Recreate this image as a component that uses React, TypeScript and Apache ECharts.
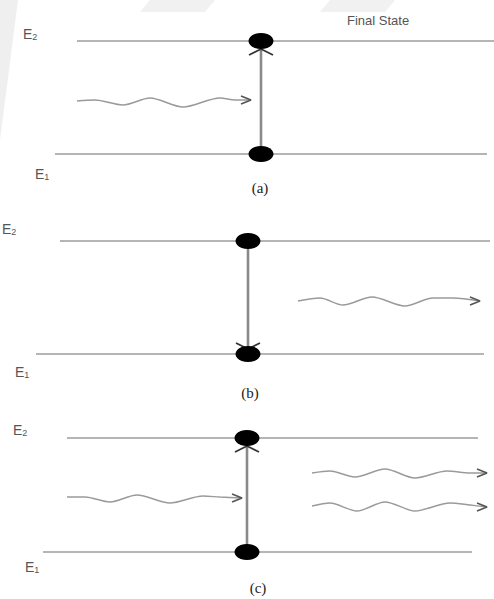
import React, { useEffect, useRef } from "react";
import * as echarts from "echarts";

// Panels and energy levels (pixel-space coordinates on a 494x599 canvas)
const panelNames = ["(a)", "(b)", "(c)"];
const upperLevelY = [41, 241, 438];
const lowerLevelY = [154, 354, 552];
const upperLevelX = [[77, 494], [60, 490], [67, 478]];
const lowerLevelX = [[55, 487], [36, 484], [43, 472]];
const transitionX = [261, 248, 247];
const transitionDir = ["up", "down", "up"];

// Photons (wavy arrows): [x, y] vertices
const waveA: number[][] = [[77, 101], [95, 100], [123, 105], [150, 98], [183, 107], [220, 98], [235, 100], [251, 100]];
const waveB: number[][] = [[298, 301], [320, 298], [343, 305], [372, 297], [405, 306], [433, 298], [453, 298], [480, 301]];
const waveCin: number[][] = [[67, 497], [85, 497], [110, 502], [137, 495], [170, 503], [203, 496], [220, 497], [242, 498]];
const waveCout1: number[][] = [[312, 473], [330, 471], [355, 477], [385, 469], [415, 478], [447, 471], [470, 473], [487, 473]];
const waveCout2: number[][] = [[312, 506], [330, 503], [357, 511], [385, 502], [415, 511], [450, 503], [470, 505], [487, 507]];
const waves = [waveA, waveB, waveCin, waveCout1, waveCout2];

export default function App() {
  const ref = useRef<HTMLDivElement>(null);
  useEffect(() => {
    if (!ref.current) return;
    const chart = echarts.init(ref.current, undefined, { renderer: "svg" });
    const series: any[] = [];
    const levelStyle = { color: "#9c9c9c", width: 1.6 };
    for (let i = 0; i < 3; i++) {
      series.push({
        type: "line", data: [[upperLevelX[i][0], upperLevelY[i]], [upperLevelX[i][1], upperLevelY[i]]],
        symbol: "none", lineStyle: levelStyle, silent: true,
      });
      series.push({
        type: "line", data: [[lowerLevelX[i][0], lowerLevelY[i]], [lowerLevelX[i][1], lowerLevelY[i]]],
        symbol: "none", lineStyle: levelStyle, silent: true,
      });
      const x = transitionX[i];
      series.push({
        type: "line", data: [[x, upperLevelY[i]], [x, lowerLevelY[i]]],
        symbol: "none", lineStyle: { color: "#8a8a8a", width: 2.6 }, silent: true,
      });
      // chevron of the transition arrow
      let tipY: number, s: number;
      if (transitionDir[i] === "up") { tipY = upperLevelY[i] + 8; s = 1; }
      else { tipY = lowerLevelY[i] - 5; s = -1; }
      series.push({
        type: "line", data: [[x - 12, tipY + 6 * s], [x, tipY], [x + 12, tipY + 6 * s]],
        symbol: "none", lineStyle: { color: "#333", width: 1.8 }, silent: true, z: 3,
      });
      series.push({
        type: "scatter", data: [[x, upperLevelY[i]], [x, lowerLevelY[i]]],
        symbol: "circle", symbolSize: [25, 16], itemStyle: { color: "#000", opacity: 1 }, silent: true, z: 4,
      });
    }
    waves.forEach((w) => {
      series.push({
        type: "line", data: w, smooth: 0.3, symbol: "none",
        lineStyle: { color: "#9a9a9a", width: 1.4 }, silent: true,
      });
      const tip = w[w.length - 1];
      series.push({
        type: "line", data: [[tip[0] - 10, tip[1] - 4], tip, [tip[0] - 10, tip[1] + 4]],
        symbol: "none", lineStyle: { color: "#555", width: 1.6 }, silent: true,
      });
    });

    const eLabel = (x: number, y: number, n: string) => ({
      type: "text", x, y,
      style: {
        text: "E{s|" + n + "}",
        fill: "#555", font: "14px 'Liberation Sans', Arial, sans-serif",
        rich: { s: { fontSize: 9, fill: "#555", padding: [6, 0, 0, 0] } },
      },
    });
    const capLabel = (cx: number, cy: number, t: string) => ({
      type: "text", x: cx, y: cy,
      style: { text: t, fill: "#222", font: "15px 'Liberation Serif', 'Times New Roman', serif", align: "center", verticalAlign: "middle" },
    });

    chart.setOption({
      animation: false,
      backgroundColor: "#ffffff",
      grid: { left: 0, right: 0, top: 0, bottom: 0 },
      xAxis: { type: "value", min: 0, max: 494, show: false },
      yAxis: { type: "value", min: 0, max: 599, inverse: true, show: false },
      graphic: [
        { type: "polygon", shape: { points: [[0, 0], [18, 0], [0, 140]] }, style: { fill: "#efefef" }, z: -10 },
        { type: "polygon", shape: { points: [[150, 0], [215, 0], [205, 12], [140, 12]] }, style: { fill: "#f1f1f1" }, z: -10 },
        { type: "polygon", shape: { points: [[330, 0], [395, 0], [385, 12], [320, 12]] }, style: { fill: "#f1f1f1" }, z: -10 },
        eLabel(23, 26, "2"),
        eLabel(35, 166, "1"),
        eLabel(2, 221, "2"),
        eLabel(15, 364, "1"),
        eLabel(13, 422, "2"),
        eLabel(25, 559, "1"),
        {
          type: "text", x: 347, y: 14,
          style: { text: "Final State", fill: "#555", font: "13px 'Liberation Sans', Arial, sans-serif" },
        },
        capLabel(260, 188, panelNames[0]),
        capLabel(250, 393, panelNames[1]),
        capLabel(258, 588, panelNames[2]),
      ],
      series,
    });
    return () => chart.dispose();
  }, []);
  return <div ref={ref} style={{ position: "fixed", left: 0, top: 0, width: 494, height: 599 }} />;
}
